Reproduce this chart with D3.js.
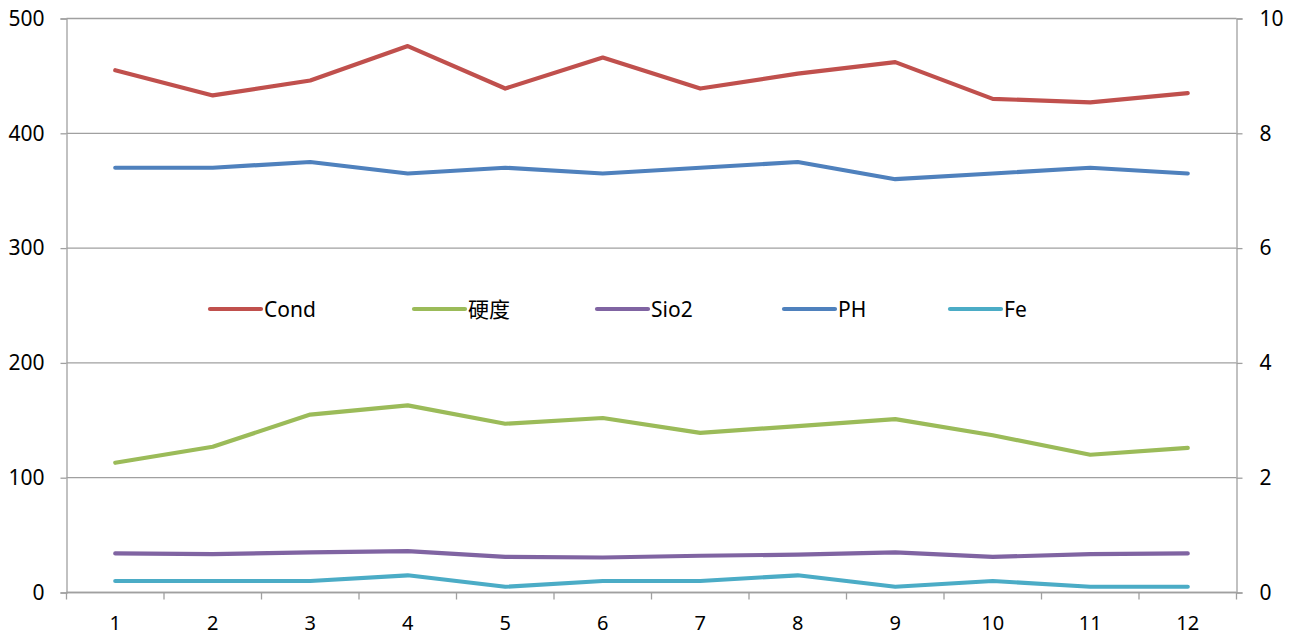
<!DOCTYPE html>
<html><head><meta charset="utf-8">
<script src="https://cdn.jsdelivr.net/npm/d3@7"></script>
<style>body{margin:0;background:#fff}svg{display:block}text{font-family:"Noto Sans","Noto Sans CJK SC",sans-serif}</style>
</head><body><svg id="c" width="1295" height="636"></svg>
<script>
const categories = ["1","2","3","4","5","6","7","8","9","10","11","12"];
const cond = [455,433,446,476,439,466,439,452,462,430,427,435];
const hardness = [113,127,155,163,147,152,139,145,151,137,120,126];
const sio2 = [34,33.5,35,36,31,30.5,32,33,35,31,33.5,34];
const ph = [7.4,7.4,7.5,7.3,7.4,7.3,7.4,7.5,7.2,7.3,7.4,7.3];
const fe = [0.2,0.2,0.2,0.3,0.1,0.2,0.2,0.3,0.1,0.2,0.1,0.1];
const leftTicks = [0,100,200,300,400,500];
const rightTicks = [0,2,4,6,8,10];

const series = [
  {name:"Cond", values:cond, axis:"L", color:"#C0504D"},
  {name:"硬度", values:hardness, axis:"L", color:"#9BBB59"},
  {name:"Sio2", values:sio2, axis:"L", color:"#8064A2"},
  {name:"PH", values:ph, axis:"R", color:"#4F81BD"},
  {name:"Fe", values:fe, axis:"R", color:"#4BACC6"}
];

const svg = d3.select("#c");
const L=66.5, R=1236.5, T=18.5, B=592.5;
const x = d3.scaleBand().domain(categories).range([L,R]);
const yL = d3.scaleLinear().domain([0,500]).range([B,T]);
const yR = d3.scaleLinear().domain([0,10]).range([B,T]);
const grid="#a0a0a0";

// gridlines
svg.append("g").selectAll("line").data(leftTicks).join("line")
  .attr("x1",L).attr("x2",R).attr("y1",d=>yL(d)).attr("y2",d=>yL(d))
  .attr("stroke",grid).attr("stroke-width",1.3);

// left axis
const gl = svg.append("g").attr("transform",`translate(${L},0)`)
  .call(d3.axisLeft(yL).tickValues(leftTicks).tickSize(6).tickPadding(16));
// right axis
const gr = svg.append("g").attr("transform",`translate(${R},0)`)
  .call(d3.axisRight(yR).tickValues(rightTicks).tickSize(6).tickPadding(17));
// bottom axis
const gb = svg.append("g").attr("transform",`translate(0,${B})`)
  .call(d3.axisBottom(x).tickSize(0).tickPadding(23));
gb.selectAll(".bt").data(d3.range(categories.length+1)).join("line")
  .attr("class","bt").attr("x1",i=>L+i*x.step()).attr("x2",i=>L+i*x.step())
  .attr("y1",0).attr("y2",7).attr("stroke",grid).attr("stroke-width",1.3);
[gl,gr,gb].forEach(g=>{
  g.selectAll(".domain").attr("stroke",grid).attr("stroke-width",1.3);
  g.selectAll(".tick line").attr("stroke",grid).attr("stroke-width",1.3);
  g.selectAll("text").attr("font-size",21).attr("fill","#000")
   .attr("font-family",'"Noto Sans",sans-serif');
});
gb.selectAll("text").attr("font-size",20);
gb.select(".domain").attr("d",`M${L},0H${R}`);

// lines
series.forEach(s=>{
  const y = s.axis==="L"?yL:yR;
  const line = d3.line().x((d,i)=>x(categories[i])+x.bandwidth()/2).y(d=>y(d));
  svg.append("path").datum(s.values).attr("d",line).attr("fill","none")
    .attr("stroke",s.color).attr("stroke-width",4.2)
    .attr("stroke-linejoin","round").attr("stroke-linecap","round");
});

// legend
const legX = [210,414,597,784,950];
const lg = svg.append("g");
series.forEach((s,i)=>{
  const g = lg.append("g").attr("transform",`translate(${legX[i]},309)`);
  g.append("line").attr("x1",0).attr("x2",51).attr("y1",0).attr("y2",0)
    .attr("stroke",s.color).attr("stroke-width",4.2).attr("stroke-linecap","round");
  g.append("text").attr("x",54).attr("y",7.5).attr("font-size",21).text(s.name);
});
</script></body></html>
